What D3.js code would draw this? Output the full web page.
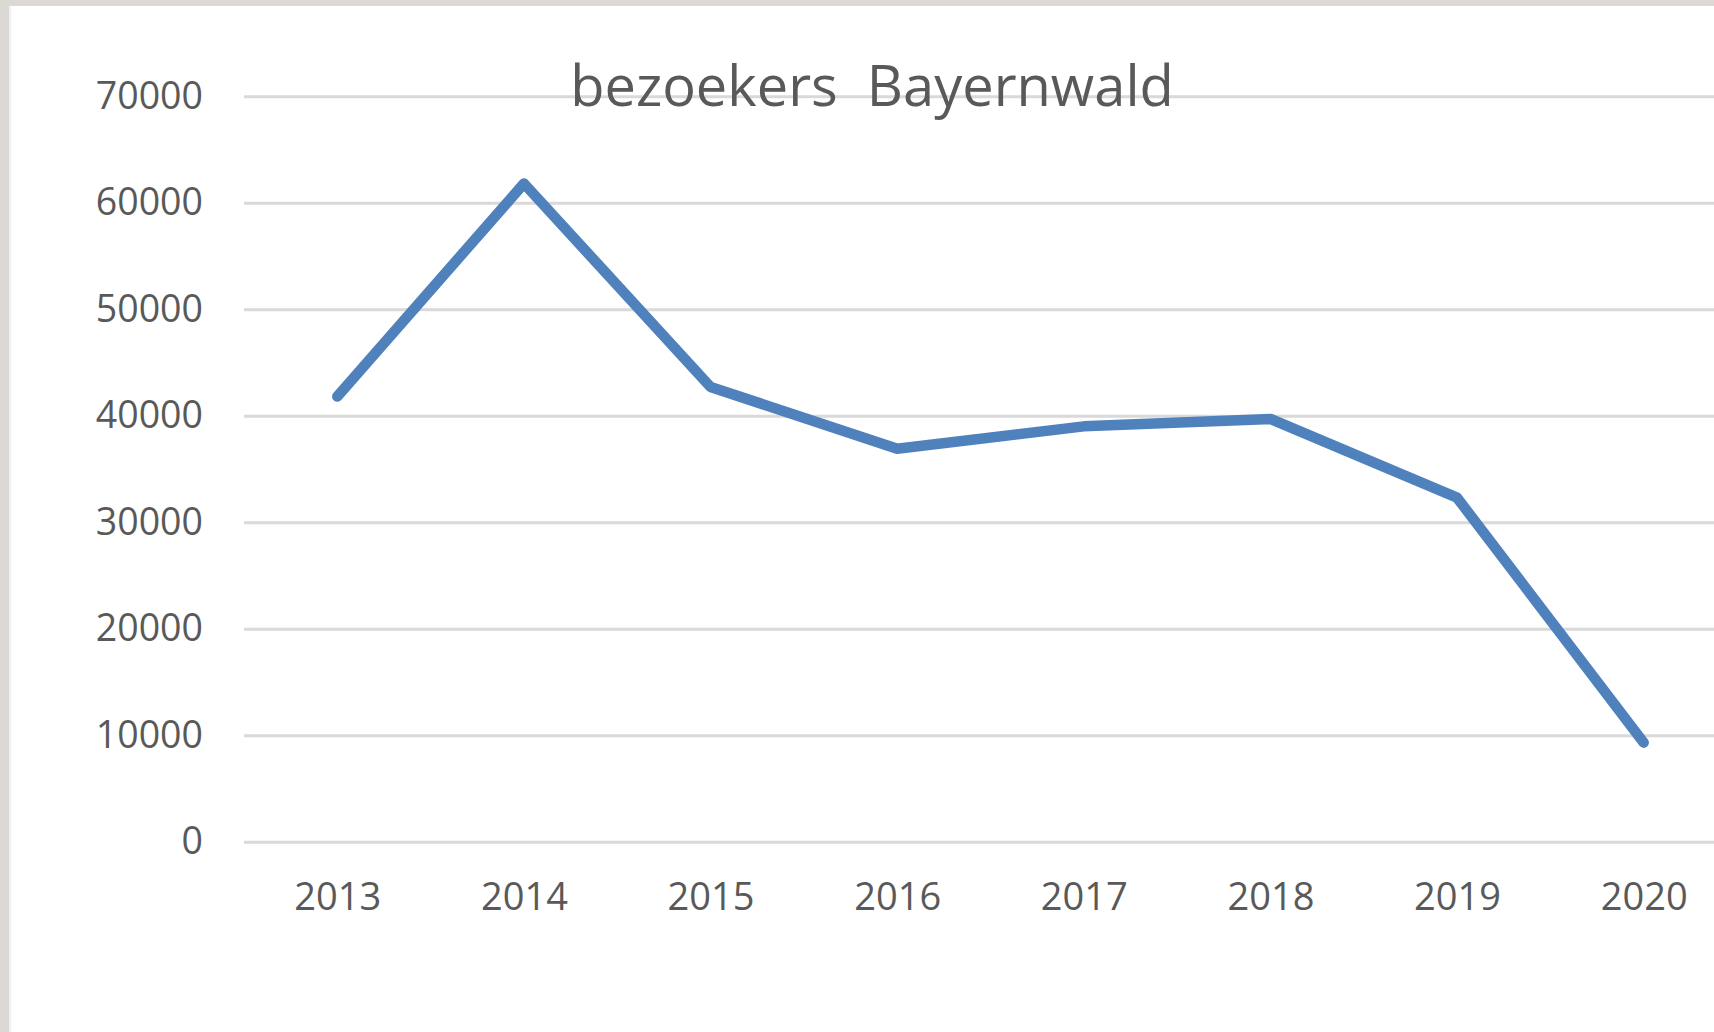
<!DOCTYPE html>
<html>
<head>
<meta charset="utf-8">
<script src="https://cdn.jsdelivr.net/npm/d3@7"></script>
<style>
  html, body { margin: 0; padding: 0; background: #dcd9d5; }
  svg { display: block; }
  text { font-family: "Open Sans", "Noto Sans", sans-serif; fill: #595959; }
</style>
</head>
<body>
<svg id="chart" width="1714" height="1032"></svg>
<script>
const chartTitle = "bezoekers  Bayernwald";
const years = ["2013", "2014", "2015", "2016", "2017", "2018", "2019", "2020"];
const visitors = [41800, 61800, 42700, 36900, 39000, 39700, 32300, 9300];
const yTicks = [0, 10000, 20000, 30000, 40000, 50000, 60000, 70000];

const W = 1714, H = 1032;
const svg = d3.select("#chart");

// frame (window edge) and white chart area
svg.append("rect").attr("x", 0).attr("y", 0).attr("width", W).attr("height", H).attr("fill", "#dcd9d5");
svg.append("rect").attr("x", 10).attr("y", 6).attr("width", W - 10).attr("height", H - 6).attr("fill", "#ffffff");
svg.append("rect").attr("x", 9).attr("y", 6).attr("width", 2).attr("height", H - 6).attr("fill", "#eef0f6");

const plotLeft = 244, plotRight = 1737, plotTop = 96.2, plotBottom = 841.7;

const x = d3.scalePoint().domain(years).range([plotLeft, plotRight]).padding(0.5);
const y = d3.scaleLinear().domain([0, 70000]).range([plotBottom, plotTop]);

// y axis with gridlines
const yAxis = d3.axisLeft(y).tickValues(yTicks).tickFormat(d3.format("d"))
  .tickSizeInner(-(plotRight - plotLeft)).tickSizeOuter(0).tickPadding(41);
const gy = svg.append("g").attr("transform", `translate(${plotLeft},0)`).call(yAxis);
gy.select(".domain").remove();
gy.selectAll(".tick line").attr("stroke", "#d9d9d9").attr("stroke-width", 3);
gy.selectAll(".tick text").attr("font-size", 37.5).attr("fill", "#595959")
  .attr("font-family", '"Open Sans", sans-serif');

// x axis labels
const xAxis = d3.axisBottom(x).tickSize(0).tickPadding(41);
const gx = svg.append("g").attr("transform", `translate(0,${plotBottom})`).call(xAxis);
gx.select(".domain").remove();
gx.selectAll(".tick text").attr("font-size", 38).attr("fill", "#595959")
  .attr("font-family", '"Open Sans", sans-serif');

// title
svg.append("text").attr("x", 872).attr("y", 106).attr("text-anchor", "middle")
  .attr("font-size", 56).attr("xml:space", "preserve").style("white-space", "pre")
  .text(chartTitle);

// line
const line = d3.line().x((d, i) => x(years[i])).y(d => y(d));
svg.append("path").datum(visitors).attr("d", line)
  .attr("fill", "none").attr("stroke", "#4f81bd").attr("stroke-width", 10.5)
  .attr("stroke-linecap", "round").attr("stroke-linejoin", "round");
</script>
</body>
</html>
